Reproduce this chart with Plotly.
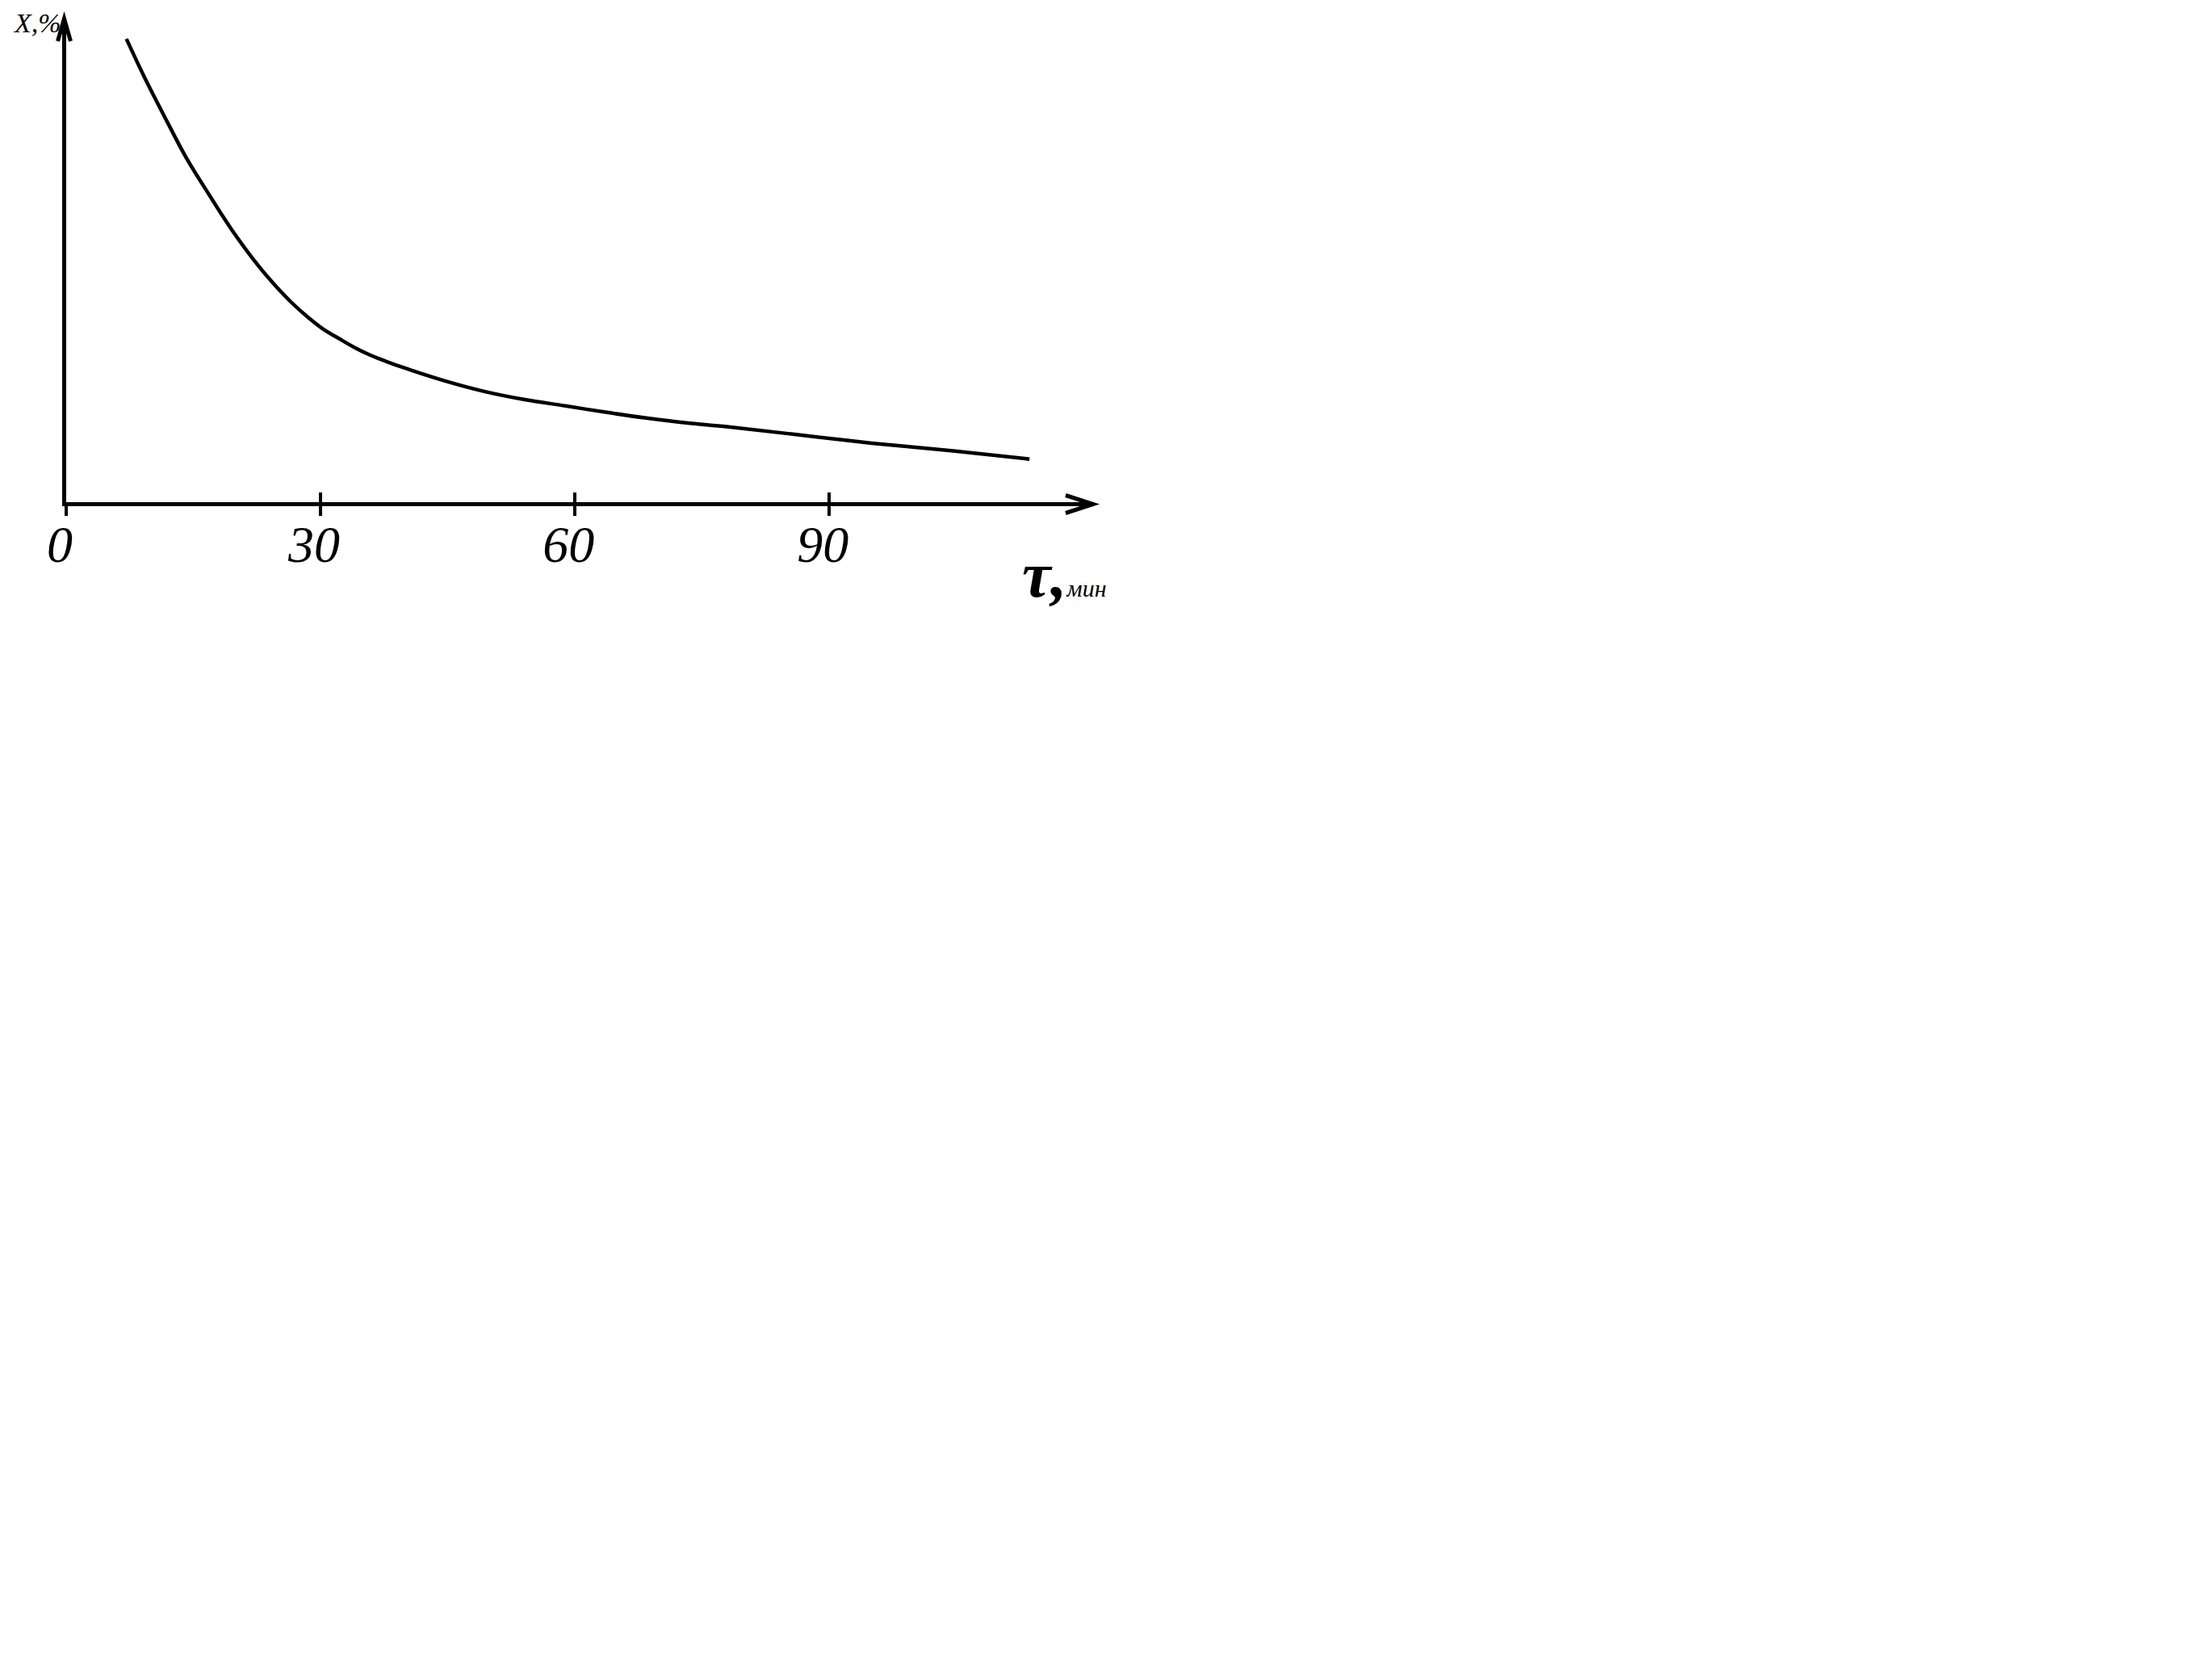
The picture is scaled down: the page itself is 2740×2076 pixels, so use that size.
import plotly.graph_objects as go

# ---- data ----
time_min = [7.1, 9.3, 11.9, 14.1, 16.7, 19.5, 22.7, 24.6, 26.5, 28.4, 30.3, 32.2,
            34.1, 36.0, 37.9, 39.8, 44.6, 49.3, 54.1, 58.9, 63.6, 68.4, 73.1,
            77.9, 85.5, 95.0, 104.6, 113.6]
x_percent = [95.8, 87.6, 78.7, 71.4, 64.0, 56.4, 48.8, 44.9, 41.4, 38.4, 35.8, 33.8,
             31.9, 30.3, 29.0, 27.8, 25.1, 22.9, 21.2, 19.9, 18.6, 17.4, 16.4,
             15.6, 14.1, 12.2, 10.6, 8.9]
tick_values = [0, 30, 60, 90]
tick_labels = ["0", "30", "60", "90"]
x_axis_end = 121.1
y_axis_end = 100

FONT = "Liberation Serif"
BODY = 8                      # default page margin of the html body
W, H = 2740 - 2 * BODY - 4, 2076 - 2 * BODY - 4
L, T = 82 - BODY, 22.5 - BODY
PLOT_W = 1272
PLOT_H = 600

fig = go.Figure()
fig.add_trace(go.Scatter(
    x=time_min, y=x_percent, mode="lines",
    line=dict(color="black", width=4.5, shape="spline", smoothing=1.0),
    hoverinfo="skip", showlegend=False,
))
# empty trace to instantiate the overlay axis (upper halves of the ticks)
fig.add_trace(go.Scatter(x=[], y=[], xaxis="x2", yaxis="y", showlegend=False))

fig.update_layout(
    width=W, height=H,
    margin=dict(l=L, t=T, r=W - L - PLOT_W, b=H - T - PLOT_H, pad=0),
    paper_bgcolor="white", plot_bgcolor="white",
    xaxis=dict(
        range=[0, x_axis_end], showgrid=False, zeroline=False,
        showline=True, linecolor="black", linewidth=5,
        tickmode="array", tickvals=tick_values, ticktext=tick_labels,
        ticks="outside", ticklen=12, tickwidth=4, tickcolor="black",
        tickfont=dict(family=FONT, size=64, color="black", style="italic"),
        ticklabelstandoff=-20, ticklabelshift=-8,
        fixedrange=True,
    ),
    xaxis2=dict(
        range=[0, x_axis_end], overlaying="x", anchor="y", side="bottom",
        showgrid=False, zeroline=False, showline=False,
        tickmode="array", tickvals=tick_values[1:],
        ticks="inside", ticklen=12, tickwidth=4, tickcolor="black",
        showticklabels=False, fixedrange=True,
    ),
    yaxis=dict(
        range=[0, y_axis_end], showgrid=False, zeroline=False,
        showline=True, linecolor="black", linewidth=5,
        ticks="", showticklabels=False, fixedrange=True,
    ),
    shapes=[
        # x-axis arrowhead (open chevron) at the right end of the axis
        dict(type="path", xref="paper", yref="paper", xsizemode="pixel", ysizemode="pixel",
             xanchor=1, yanchor=0,
             path="M-34,8.5 L0,-2.5 L-34,-13.5",
             line=dict(color="black", width=5)),
        # y-axis arrowhead at the top of the axis
        dict(type="path", xref="paper", yref="paper", xsizemode="pixel", ysizemode="pixel",
             xanchor=0, yanchor=1,
             path="M-10.5,-28 L-2.5,0 L5.5,-28",
             line=dict(color="black", width=5)),
    ],
    annotations=[
        dict(x=0, y=1, xref="paper", yref="paper", text="X,%",
             showarrow=False, xanchor="center", yanchor="top",
             xshift=-36, yshift=14, borderpad=0,
             font=dict(family=FONT, size=34, color="black", style="italic")),
        dict(x=1, y=0, xref="paper", yref="paper",
             text="<b>τ,</b><span style='font-size:30px'>мин</span>",
             showarrow=False, xanchor="left", yanchor="top",
             xshift=-90, yshift=-44,
             font=dict(family=FONT, size=80, color="black", style="italic")),
    ],
)

fig.write_html("out.html", config={"displayModeBar": False})
